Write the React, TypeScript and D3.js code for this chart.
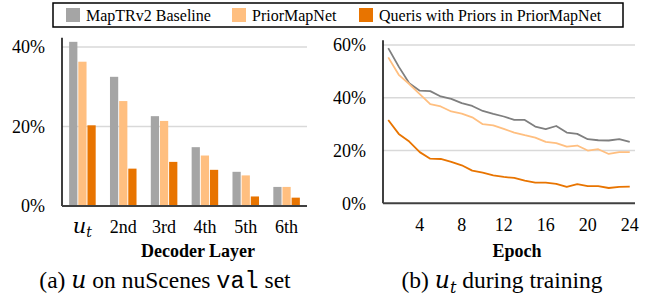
import React, { useEffect, useRef } from 'react';
import * as d3 from 'd3';

// series names + colours
const seriesNames = ['MapTRv2 Baseline', 'PriorMapNet', 'Queris with Priors in PriorMapNet'];
const barColors = ['#a5a5a5', '#ffbf80', '#e87400'];
const lineColors = ['#7f7f7f', '#ffbf80', '#e87400'];

// (a) decoder layers
const layers = ['ut', '2nd', '3rd', '4th', '5th', '6th'];
const baselineLayer = [41.3, 32.5, 22.6, 14.8, 8.6, 4.8];
const priorLayer = [36.3, 26.4, 21.4, 12.7, 7.7, 4.8];
const queryLayer = [20.3, 9.4, 11.1, 9.1, 2.4, 2.1];
const leftTicks = [0, 20, 40];

// (b) training epochs
const epochs = [1, 2, 3, 4, 5, 6, 7, 8, 9, 10, 11, 12, 13, 14, 15, 16, 17, 18, 19, 20, 21, 22, 23, 24];
const epochTicks = [4, 8, 12, 16, 20, 24];
const baselineEpoch = [58.8, 51.8, 45.5, 42.7, 42.5, 40.5, 39.6, 38.0, 36.9, 35.0, 33.9, 32.9, 31.6, 31.6, 29.1, 28.1, 29.3, 26.8, 26.3, 24.3, 23.9, 23.8, 24.3, 23.3];
const priorEpoch = [55.3, 48.7, 45.2, 41.4, 37.6, 36.7, 34.8, 34.0, 32.6, 30.0, 29.5, 28.2, 26.8, 25.8, 24.9, 23.3, 22.8, 21.5, 21.9, 20.0, 20.5, 18.7, 19.4, 19.4];
const queryEpoch = [31.6, 26.3, 23.4, 19.4, 16.9, 16.8, 15.7, 14.4, 12.4, 11.6, 10.6, 10.0, 9.6, 8.6, 7.8, 7.8, 7.4, 6.2, 7.3, 6.5, 6.5, 5.8, 6.2, 6.3];
const rightTicks = [0, 20, 40, 60];

const FONT = '"Liberation Serif", "Times New Roman", serif';
const MATH = '"DejaVu Serif", "Liberation Serif", serif';
const TICK = '18px';
const CAPTION = '23.5px';

const App = () => {
  const ref = useRef<SVGSVGElement>(null);

  useEffect(() => {
    const svg = d3.select(ref.current);
    svg.selectAll('*').remove();
    svg.style('font-family', FONT);

    // legend
    svg.append('rect')
      .attr('x', 53).attr('y', 3).attr('width', 570).attr('height', 24)
      .attr('fill', 'white').attr('stroke', 'black').attr('stroke-width', 1.5);
    const legendX = [66, 232, 359];
    seriesNames.forEach((name, i) => {
      svg.append('rect')
        .attr('x', legendX[i]).attr('y', 8).attr('width', 14).attr('height', 14)
        .attr('fill', barColors[i]);
      svg.append('text')
        .attr('x', legendX[i] + 20).attr('y', 20.5)
        .style('font-size', '16px')
        .text(name);
    });

    // ---------- (a) bars ----------
    const bars = svg.append('g');
    const x0 = d3.scaleBand().domain(layers).range([62, 307]).paddingInner(0.35).paddingOuter(0.175);
    const x1 = d3.scaleBand().domain(['0', '1', '2']).range([0, x0.bandwidth()]).paddingInner(0.1);
    const yL = d3.scaleLinear().domain([0, 40]).range([206, 47]);

    bars.selectAll('.grid')
      .data(leftTicks.filter((t) => t > 0))
      .enter().append('line')
      .attr('x1', 62).attr('x2', 307)
      .attr('y1', (d) => yL(d)).attr('y2', (d) => yL(d))
      .attr('stroke', '#d9d9d9').attr('stroke-width', 1.5);

    const barSeries = [baselineLayer, priorLayer, queryLayer];
    barSeries.forEach((vals, s) => {
      bars.selectAll(`.bar${s}`)
        .data(vals)
        .enter().append('rect')
        .attr('x', (d, i) => (x0(layers[i]) as number) + (x1(String(s)) as number))
        .attr('y', (d) => yL(d))
        .attr('width', x1.bandwidth())
        .attr('height', (d) => yL(0) - yL(d))
        .attr('fill', barColors[s]);
    });

    bars.append('line')
      .attr('x1', 62).attr('x2', 62).attr('y1', yL(42.3)).attr('y2', yL(0))
      .attr('stroke', 'black').attr('stroke-width', 1.5);
    bars.append('line')
      .attr('x1', 62).attr('x2', 307).attr('y1', yL(0)).attr('y2', yL(0))
      .attr('stroke', '#404040').attr('stroke-width', 2);

    bars.selectAll('.ytick')
      .data(leftTicks)
      .enter().append('text')
      .attr('x', 45).attr('y', (d) => yL(d)).attr('dy', '0.35em')
      .attr('text-anchor', 'end').style('font-size', TICK)
      .text((d) => `${d}%`);

    layers.forEach((l) => {
      const cx = (x0(l) as number) + x0.bandwidth() / 2;
      const t = bars.append('text')
        .attr('x', cx).attr('y', 233)
        .attr('text-anchor', 'middle').style('font-size', TICK);
      if (l === 'ut') {
        t.append('tspan').style('font-family', MATH).style('font-style', 'italic').style('font-size', '21px').text('u');
        t.append('tspan').style('font-family', MATH).style('font-style', 'italic').style('font-size', '14px').attr('dy', 4).text('t');
      } else {
        t.text(l);
      }
    });

    bars.append('text')
      .attr('x', 198).attr('y', 257)
      .attr('text-anchor', 'middle').style('font-size', TICK).style('font-weight', 'bold')
      .text('Decoder Layer');

    const capA = bars.append('text')
      .attr('x', 165).attr('y', 288)
      .attr('text-anchor', 'middle').style('font-size', CAPTION);
    capA.append('tspan').text('(a) ');
    capA.append('tspan').style('font-family', MATH).style('font-style', 'italic').text('u');
    capA.append('tspan').text(' on nuScenes ');
    capA.append('tspan').style('font-family', '"Liberation Mono", monospace').text('val');
    capA.append('tspan').text(' set');

    // ---------- (b) lines ----------
    const lines = svg.append('g');
    const xR = d3.scalePoint<number>().domain(epochs).range([383, 635]).padding(0.5);
    const yR = d3.scaleLinear().domain([0, 60]).range([203.3, 45]);

    lines.selectAll('.grid')
      .data(rightTicks.filter((t) => t > 0))
      .enter().append('line')
      .attr('x1', 383).attr('x2', 635)
      .attr('y1', (d) => yR(d)).attr('y2', (d) => yR(d))
      .attr('stroke', '#d9d9d9').attr('stroke-width', 1.5);

    const line = d3.line<number>()
      .x((d, i) => xR(epochs[i]) as number)
      .y((d) => yR(d));

    [baselineEpoch, priorEpoch, queryEpoch].forEach((vals, s) => {
      lines.append('path')
        .datum(vals)
        .attr('d', line)
        .attr('fill', 'none')
        .attr('stroke', lineColors[s])
        .attr('stroke-width', 1.8)
        .attr('stroke-linejoin', 'round');
    });

    lines.append('line')
      .attr('x1', 383).attr('x2', 383).attr('y1', yR(61.8)).attr('y2', yR(0))
      .attr('stroke', 'black').attr('stroke-width', 1.5);
    lines.append('line')
      .attr('x1', 383).attr('x2', 635).attr('y1', yR(0)).attr('y2', yR(0))
      .attr('stroke', '#404040').attr('stroke-width', 2);

    lines.selectAll('.ytick')
      .data(rightTicks)
      .enter().append('text')
      .attr('x', 366).attr('y', (d) => yR(d)).attr('dy', '0.35em')
      .attr('text-anchor', 'end').style('font-size', TICK)
      .text((d) => `${d}%`);

    lines.selectAll('.xtick')
      .data(epochTicks)
      .enter().append('text')
      .attr('x', (d) => xR(d) as number).attr('y', 231)
      .attr('text-anchor', 'middle').style('font-size', TICK)
      .text((d) => d);

    lines.append('text')
      .attr('x', 517).attr('y', 257)
      .attr('text-anchor', 'middle').style('font-size', TICK).style('font-weight', 'bold')
      .text('Epoch');

    const capB = lines.append('text')
      .attr('x', 502).attr('y', 288)
      .attr('text-anchor', 'middle').style('font-size', CAPTION);
    capB.append('tspan').text('(b) ');
    capB.append('tspan').style('font-family', MATH).style('font-style', 'italic').text('u');
    capB.append('tspan').style('font-family', MATH).style('font-style', 'italic').style('font-size', '16px').attr('dy', 5).text('t');
    capB.append('tspan').attr('dy', -5).text(' during training');
  }, []);

  return (
    <svg
      ref={ref}
      width={659}
      height={300}
      style={{ position: 'absolute', left: 0, top: 0, background: 'white' }}
    />
  );
};

export default App;
